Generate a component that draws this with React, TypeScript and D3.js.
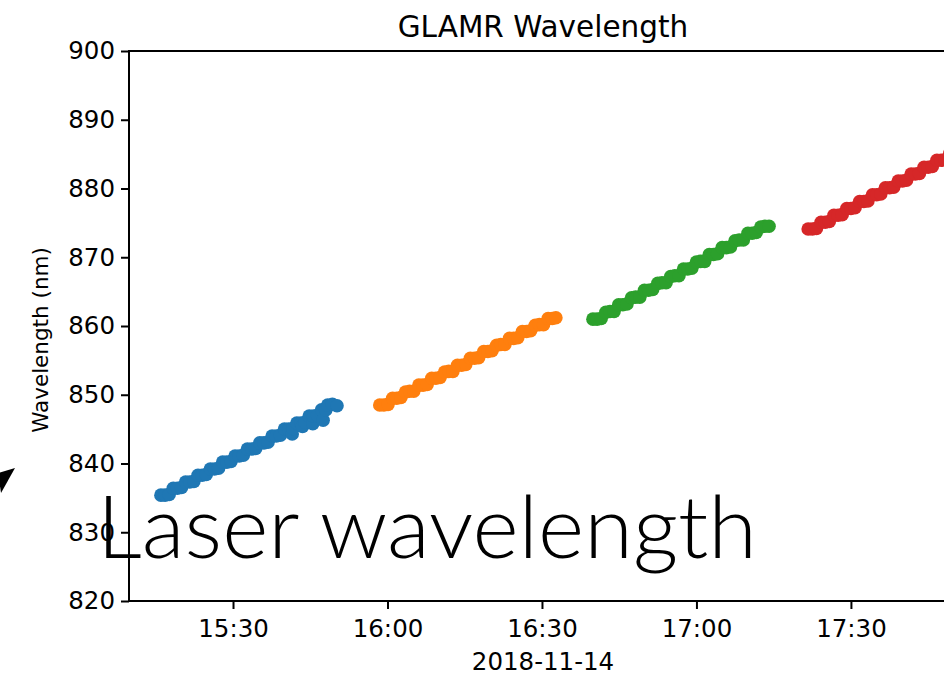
import React, { useRef, useEffect } from 'react';
import * as d3 from 'd3';

// minutes after 15:00 on 2018-11-14, wavelength in nm
const blueMin = [16.0, 16.8, 17.6, 18.4, 19.2, 20.0, 20.8, 21.6, 22.4, 23.2, 24.0, 24.8, 25.6, 26.4, 27.2, 28.0, 28.8, 29.6, 30.4, 31.2, 32.0, 32.8, 33.6, 34.4, 35.2, 36.0, 36.8, 37.6, 38.4, 39.2, 40.0, 40.8, 41.5, 41.6, 42.4, 43.2, 43.5, 44.0, 44.8, 45.5, 45.6, 46.4, 47.2, 47.5, 48.0, 48.4, 49.3, 50.2];
const blueNm = [835.4, 835.4, 835.5, 836.4, 836.4, 836.5, 837.3, 837.3, 837.4, 838.3, 838.3, 838.4, 839.2, 839.2, 839.3, 840.2, 840.2, 840.3, 841.1, 841.1, 841.2, 842.1, 842.1, 842.2, 843.0, 843.0, 843.1, 844.0, 844.0, 844.1, 845.0, 845.0, 844.3, 845.1, 845.9, 845.9, 845.4, 846.0, 846.9, 845.8, 846.9, 847.0, 847.8, 846.3, 847.8, 848.5, 848.6, 848.4];

const orangeMin = [58.5, 59.3, 60.1, 61.0, 61.8, 62.6, 63.5, 64.3, 65.1, 66.1, 66.9, 67.7, 68.6, 69.4, 70.2, 71.1, 71.9, 72.7, 73.6, 74.4, 75.2, 76.1, 76.9, 77.7, 78.7, 79.5, 80.3, 81.2, 82.0, 82.8, 83.7, 84.5, 85.3, 86.2, 87.0, 87.8, 88.7, 89.5, 90.3, 91.2, 92.0, 92.7];
const orangeNm = [848.5, 848.5, 848.6, 849.5, 849.5, 849.6, 850.4, 850.5, 850.5, 851.4, 851.4, 851.5, 852.4, 852.4, 852.5, 853.3, 853.4, 853.4, 854.3, 854.3, 854.4, 855.3, 855.3, 855.4, 856.3, 856.3, 856.4, 857.2, 857.3, 857.3, 858.2, 858.2, 858.3, 859.2, 859.2, 859.3, 860.1, 860.2, 860.2, 861.1, 861.1, 861.2];

const greenMin = [99.9, 100.7, 101.5, 102.4, 103.2, 104.0, 104.9, 105.7, 106.5, 107.4, 108.2, 109.0, 109.9, 110.7, 111.5, 112.5, 113.3, 114.1, 115.0, 115.8, 116.6, 117.5, 118.3, 119.1, 120.0, 120.8, 121.6, 122.5, 123.3, 124.1, 125.0, 125.8, 126.6, 127.5, 128.3, 129.1, 130.0, 130.8, 131.6, 132.5, 133.3, 134.1];
const greenNm = [861.0, 861.0, 861.1, 862.0, 862.1, 862.1, 863.1, 863.1, 863.2, 864.1, 864.2, 864.2, 865.2, 865.2, 865.3, 866.2, 866.3, 866.3, 867.2, 867.3, 867.3, 868.3, 868.3, 868.4, 869.3, 869.4, 869.4, 870.4, 870.4, 870.5, 871.4, 871.4, 871.5, 872.4, 872.5, 872.5, 873.5, 873.5, 873.6, 874.4, 874.5, 874.5];

const redMin = [141.7, 142.5, 143.3, 144.2, 145.0, 145.8, 146.7, 147.5, 148.3, 149.2, 150.0, 150.8, 151.7, 152.5, 153.3, 154.2, 155.0, 155.8, 156.7, 157.5, 158.3, 159.2, 160.0, 160.8, 161.7, 162.5, 163.3, 164.2, 165.0, 165.8, 166.7, 167.5, 168.3, 169.2, 170.0, 170.8];
const redNm = [874.1, 874.1, 874.2, 875.1, 875.1, 875.2, 876.1, 876.1, 876.2, 877.1, 877.1, 877.2, 878.1, 878.1, 878.2, 879.1, 879.1, 879.2, 880.1, 880.1, 880.2, 881.1, 881.1, 881.2, 882.1, 882.1, 882.2, 883.1, 883.1, 883.2, 884.1, 884.1, 884.2, 885.1, 885.1, 885.2];

const seriesColors = ['#1f77b4', '#ff7f0e', '#2ca02c', '#d62728'];
const yTicks = [820, 830, 840, 850, 860, 870, 880, 890, 900];
const xStartMin = 9.8;
const xEndMin = 170.6;

const toDate = (m: number) => new Date(2018, 10, 14, 15, 0, 0, Math.round(m * 60000));

const App = () => {
    const svgRef = useRef<SVGSVGElement>(null);

    useEffect(() => {
        const svg = d3.select(svgRef.current);
        svg.selectAll("*").remove();

        const left = 129, top = 51, right = 957, bottom = 601;
        const font = "'DejaVu Sans', sans-serif";

        const x = d3.scaleTime()
            .domain([toDate(xStartMin), toDate(xEndMin)])
            .range([left, right]);
        const y = d3.scaleLinear().domain([820, 900]).range([bottom, top]);

        const series = [
            [blueMin, blueNm],
            [orangeMin, orangeNm],
            [greenMin, greenNm],
            [redMin, redNm],
        ];

        series.forEach(([mins, nms], i) => {
            svg.append("g")
                .selectAll("circle")
                .data(mins.map((m, j) => [m, nms[j]]))
                .enter()
                .append("circle")
                .attr("cx", d => x(toDate(d[0])))
                .attr("cy", d => y(d[1]))
                .attr("r", 6.8)
                .attr("fill", seriesColors[i]);
        });

        const yAxis = svg.append("g")
            .attr("transform", `translate(${left},0)`)
            .call(d3.axisLeft(y).tickValues(yTicks).tickSize(8).tickPadding(6).tickFormat(d3.format("d")));
        const xAxis = svg.append("g")
            .attr("transform", `translate(0,${bottom})`)
            .call(d3.axisBottom(x).ticks(d3.timeMinute.every(30)).tickSize(8).tickPadding(11)
                .tickFormat(d3.timeFormat("%H:%M") as any));

        [yAxis, xAxis].forEach(a => {
            a.select(".domain").remove();
            a.selectAll("line").attr("stroke", "#000").attr("stroke-width", 2);
            a.selectAll("text").attr("fill", "#000").style("font-family", font).style("font-size", "24.5px");
        });

        // spines
        svg.append("path")
            .attr("d", `M${right},${top}H${left}V${bottom}H${right}`)
            .attr("fill", "none")
            .attr("stroke", "#000")
            .attr("stroke-width", 2);

        svg.append("text")
            .attr("x", (left + right) / 2)
            .attr("y", 37)
            .attr("text-anchor", "middle")
            .style("font-family", font)
            .style("font-size", "29.5px")
            .text("GLAMR Wavelength");

        svg.append("text")
            .attr("x", (left + right) / 2)
            .attr("y", 670)
            .attr("text-anchor", "middle")
            .style("font-family", font)
            .style("font-size", "24.5px")
            .text("2018-11-14");

        svg.append("text")
            .attr("transform", `translate(48,340) rotate(-90)`)
            .attr("text-anchor", "middle")
            .style("font-family", font)
            .style("font-size", "21.5px")
            .text("Wavelength (nm)");

        // overlay annotation
        svg.append("text")
            .attr("x", 97)
            .attr("y", 558)
            .attr("textLength", 660)
            .attr("lengthAdjust", "spacingAndGlyphs")
            .style("font-family", "Lato, sans-serif")
            .style("font-weight", 300)
            .style("font-size", "86px")
            .attr("fill", "#000")
            .text("Laser wavelength");

        svg.append("path")
            .attr("d", "M15,468L-2,473L1,493Z")
            .attr("fill", "#000");
    }, []);

    return <svg ref={svgRef} width={944} height={675} style={{ position: 'absolute', left: 0, top: 0, background: '#fff' }}></svg>;
};

export default App;
